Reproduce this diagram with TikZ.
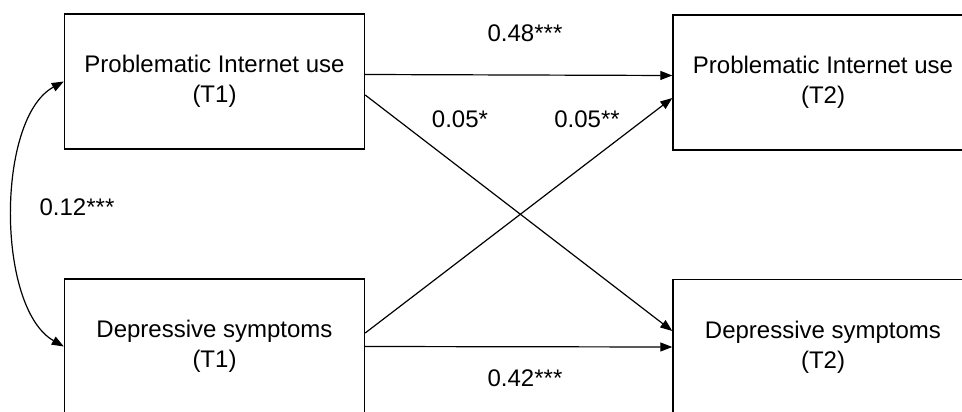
\documentclass[tikz,border=0pt]{standalone}
\usepackage{fontspec}
\setmainfont{Liberation Sans}
\usetikzlibrary{arrows.meta,positioning}

\begin{document}
\begin{tikzpicture}[x=1pt,y=-1pt,
    var/.style={draw, line width=1.4pt, minimum width=300pt, minimum height=135pt,
        align=center, inner sep=0pt, font=\fontsize{24}{30}\selectfont},
    reg/.style={-{Triangle[length=12pt,width=9pt]}, line width=1.2pt},
    coef/.style={font=\fontsize{24}{30}\selectfont}]
    \useasboundingbox (0,0) rectangle (962,412);

    % T1
    \node[var] (pit1) at (214.5,81.5) {Problematic Internet use\\(T1)};
    \node[var] (dep1) at (214.5,346.5) {Depressive symptoms\\(T1)};
    % T2
    \node[var] (pit2) at (823,82.5) {Problematic Internet use\\(T2)};
    \node[var] (dep2) at (823,347) {Depressive symptoms\\(T2)};

    % paths
    \draw[reg] ([yshift=7pt]pit1.east) -- ([yshift=7pt]pit2.west);
    \draw[reg] ([yshift=-13.5pt]pit1.east) -- ([yshift=16pt]dep2.west);
    \draw[reg] ([yshift=13.5pt]dep1.east) -- ([yshift=-15.5pt]pit2.west);
    \draw[reg] (dep1.east) -- (dep2.west);
    % covariance
    \draw[reg, {Triangle[length=12pt,width=9pt]}-{Triangle[length=12pt,width=9pt]}]
        (pit1.west) .. controls (-4,118) and (-4,308) .. (dep1.west);

    \node[coef] (b1) at (525,33) {0.48***};
    \node[coef] (b2) at (460,119) {0.05*};
    \node[coef] (b3) at (587,119) {0.05**};
    \node[coef] (b4) at (525,378) {0.42***};
    \node[coef] (r1) at (77,207) {0.12***};
\end{tikzpicture}
\end{document}
